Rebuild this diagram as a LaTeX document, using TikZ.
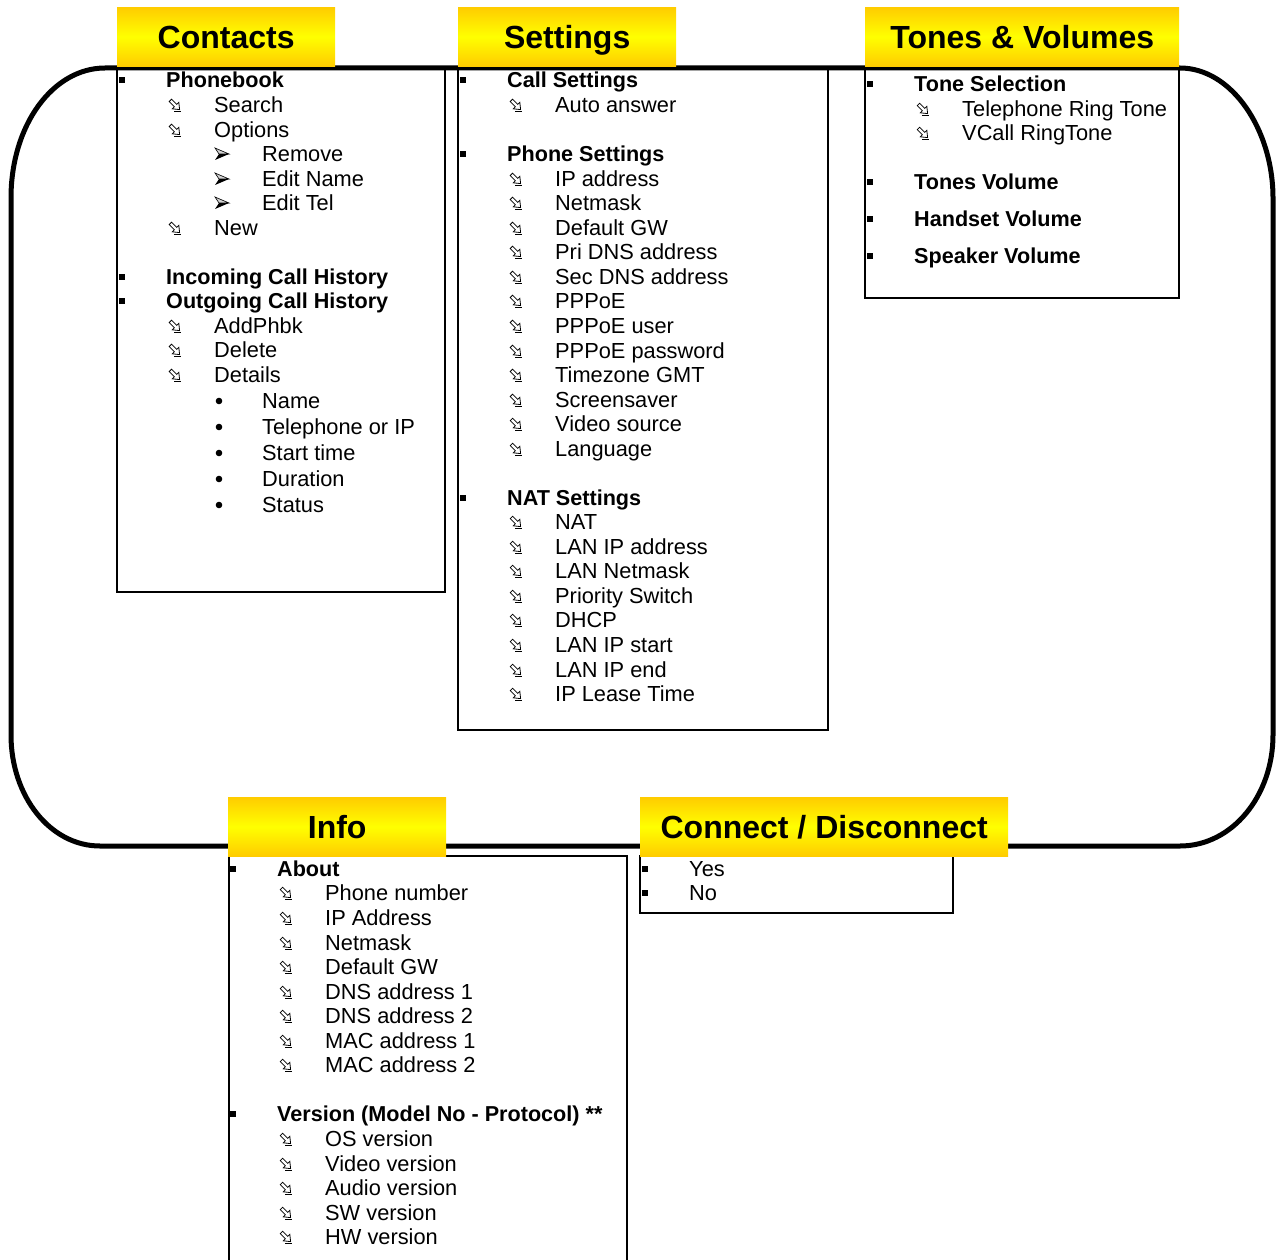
\documentclass[tikz,border=0pt]{standalone}
\usepackage{fontspec}
\setmainfont{Liberation Sans}
\definecolor{hdrO}{HTML}{FFCC00}
\tikzset{
  hdr/.style={anchor=north west, inner sep=0, minimum width=#1, minimum height=59,
    text height=23, text depth=0,
    top color=hdrO, bottom color=hdrO, middle color=yellow,
    font=\bfseries\fontsize{32}{36}\selectfont},
  listbox/.style={draw, line width=1.6},
  frame/.style={draw, line width=5},
  lbl/.style={anchor=base west, inner sep=0, font=\fontsize{21.8}{24}\selectfont},
  blbl/.style={anchor=base west, inner sep=0, font=\bfseries\fontsize{21.6}{24}\selectfont},
  hollarr/.pic={
    \draw[line width=0.8, rotate=-45] (-6.5,-1.7) -- (0.8,-1.7) -- (0.8,-4.6) -- (6.5,0) -- (0.8,4.6) -- (0.8,1.7) -- (-6.5,1.7) -- cycle;
    \draw[line width=0.8] (-1,6.2) -- (6,6.2);
  },
  darr/.pic={
    \fill (7,0) -- (-7,6) -- (-3,0) -- cycle;
    \filldraw[fill=gray!35, line width=0.6] (7,0) -- (-7,-6) -- (-3,0) -- cycle;
  }
}
\newcommand\Lsq[4]{\fill (#2-2.7,#3-2.7) rectangle (#2+2.7,#3+2.7); \node[blbl] (#1) at (#2+44,#3+7.5) {#4};}
\newcommand\Lsqn[4]{\fill (#2-2.7,#3-2.7) rectangle (#2+2.7,#3+2.7); \node[lbl] (#1) at (#2+44,#3+7.5) {#4};}
\newcommand\Ltwo[4]{\pic at (#2,#3) {hollarr}; \node[lbl] (#1) at (#2+39,#3+7.5) {#4};}
\newcommand\Lthree[4]{\pic at (#2,#3) {darr}; \node[lbl] (#1) at (#2+40,#3+7.5) {#4};}
\newcommand\Ldot[4]{\fill (#2,#3) circle (3.3); \node[lbl] (#1) at (#2+43,#3+7.5) {#4};}
\begin{document}
\begin{tikzpicture}[x=1pt,y=-1pt]
\useasboundingbox (0,0) rectangle (1277,1260);
% big rounded frame
\draw[frame] (105,68) -- (1180,68) .. controls (1232,68) and (1273,130) .. (1273,198)
  -- (1273,735) .. controls (1273,796) and (1232,846) .. (1180,846)
  -- (100,846) .. controls (50,846) and (11,796) .. (11,735)
  -- (11,198) .. controls (11,125) and (53,68) .. (105,68) -- cycle;
% list boxes
\draw[listbox] (117,67) rectangle (445,592);
\draw[listbox] (458,67) rectangle (828,730);
\draw[listbox] (865,69) rectangle (1179,298);
\draw[listbox] (229,1264) -- (229,856) -- (627,856) -- (627,1264);
\draw[listbox] (640,856) rectangle (953,913);
% headers
\node[hdr=218] (hC) at (117,7) {Contacts};
\node[hdr=218] (hS) at (458,7) {Settings};
\node[hdr=314] (hT) at (865,7) {Tones \& Volumes};
\node[hdr=218] (hI) at (228,797) {Info};
\node[hdr=368] (hD) at (640,797) {Connect / Disconnect};
% Contacts
\Lsq{c1}{122}{80}{Phonebook}
\foreach \n/\y/\t in {c2/105/Search, c3/130/Options, c7/228/New, c10/326/AddPhbk, c11/350/Delete, c12/375/Details}
  {\Ltwo{\n}{175}{\y}{\t}}
\foreach \n/\y/\t in {c4/154/Remove, c5/179/Edit Name, c6/203/Edit Tel}
  {\Lthree{\n}{222}{\y}{\t}}
\Lsq{c8}{122}{277}{Incoming Call History}
\Lsq{c9}{122}{301}{Outgoing Call History}
\foreach \n/\y/\t in {c13/401/Name, c14/427/Telephone or IP, c15/453/Start time, c16/479/Duration, c17/505/Status}
  {\Ldot{\n}{219}{\y}{\t}}
% Settings
\Lsq{s1}{463}{80}{Call Settings}
\Ltwo{s2}{516}{105}{Auto answer}
\Lsq{s3}{463}{154}{Phone Settings}
\foreach \n/\y/\t in {s4/179/IP address, s5/203/Netmask, s6/228/Default GW, s7/252/Pri DNS address,
  s8/277/Sec DNS address, s9/301/PPPoE, s10/326/PPPoE user, s11/351/PPPoE password,
  s12/375/Timezone GMT, s13/400/Screensaver, s14/424/Video source, s15/449/Language}
  {\Ltwo{\n}{516}{\y}{\t}}
\Lsq{s16}{463}{498}{NAT Settings}
\foreach \n/\y/\t in {s17/522/NAT, s18/547/LAN IP address, s19/571/LAN Netmask, s20/596/Priority Switch,
  s21/620/DHCP, s22/645/LAN IP start, s23/670/LAN IP end, s24/694/IP Lease Time}
  {\Ltwo{\n}{516}{\y}{\t}}
% Tones
\Lsq{t1}{870}{84}{Tone Selection}
\Ltwo{t2}{923}{109}{Telephone Ring Tone}
\Ltwo{t3}{923}{133}{VCall RingTone}
\Lsq{t4}{870}{182}{Tones Volume}
\Lsq{t5}{870}{219}{Handset Volume}
\Lsq{t6}{870}{256}{Speaker Volume}
% Info
\Lsq{i1}{233}{869}{About}
\foreach \n/\y/\t in {i2/893/Phone number, i3/918/IP Address, i4/943/Netmask, i5/967/Default GW,
  i6/992/DNS address 1, i7/1016/DNS address 2, i8/1041/MAC address 1, i9/1065/MAC address 2}
  {\Ltwo{\n}{286}{\y}{\t}}
\Lsq{i10}{233}{1114}{Version (Model No - Protocol) **}
\foreach \n/\y/\t in {i11/1139/OS version, i12/1164/Video version, i13/1188/Audio version,
  i14/1213/SW version, i15/1237/HW version}
  {\Ltwo{\n}{286}{\y}{\t}}
% Connect
\Lsqn{d1}{645}{869}{Yes}
\Lsqn{d2}{645}{893}{No}
\end{tikzpicture}
\end{document}
